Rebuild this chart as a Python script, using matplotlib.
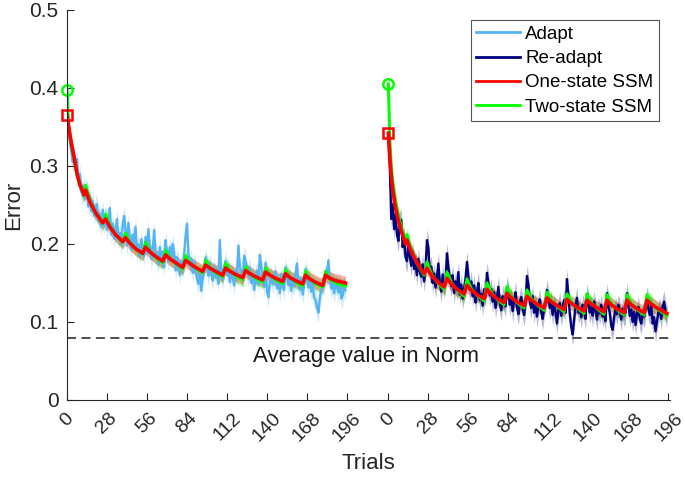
import numpy as np
import matplotlib.pyplot as plt
from matplotlib.lines import Line2D

plt.rcParams['font.family'] = ['Liberation Sans', 'DejaVu Sans']

# second session is drawn after a gap on the same axis
offset = 225
tick_vals = [0, 28, 56, 84, 112, 140, 168, 196]

# trial-by-trial mean error
adapt = [
    0.362, 0.345, 0.332, 0.318, 0.305, 0.312, 0.296, 0.309, 0.281, 0.290, 0.268, 0.262, 0.275,
    0.258, 0.270, 0.248, 0.262, 0.242, 0.255, 0.236, 0.246, 0.251, 0.229, 0.238, 0.222, 0.244, 0.224,
    0.236, 0.218, 0.230, 0.246, 0.212, 0.226, 0.207, 0.219, 0.232, 0.205, 0.214, 0.199, 0.226, 0.236,
    0.216, 0.198, 0.227, 0.207, 0.193, 0.212, 0.201, 0.222, 0.190, 0.199, 0.184, 0.206, 0.192, 0.185,
    0.209, 0.188, 0.219, 0.197, 0.181, 0.193, 0.218, 0.190, 0.185, 0.174, 0.196, 0.179, 0.190, 0.170,
    0.205, 0.187, 0.178, 0.196, 0.182, 0.200, 0.189, 0.166, 0.183, 0.174, 0.160, 0.178, 0.169, 0.187,
    0.210, 0.226, 0.188, 0.172, 0.181, 0.163, 0.177, 0.168, 0.155, 0.149, 0.162, 0.140, 0.158, 0.166,
    0.183, 0.170, 0.159, 0.176, 0.162, 0.153, 0.171, 0.158, 0.167, 0.149, 0.205, 0.163, 0.155, 0.170,
    0.178, 0.160, 0.172, 0.151, 0.165, 0.157, 0.147, 0.166, 0.160, 0.198, 0.170, 0.164, 0.155, 0.185,
    0.178, 0.164, 0.159, 0.170, 0.150, 0.162, 0.141, 0.157, 0.166, 0.148, 0.186, 0.171, 0.158, 0.145,
    0.176, 0.139, 0.132, 0.151, 0.160, 0.148, 0.158, 0.165, 0.143, 0.155, 0.137, 0.162, 0.150, 0.141,
    0.170, 0.156, 0.147, 0.160, 0.140, 0.153, 0.146, 0.163, 0.175, 0.150, 0.142, 0.156, 0.135, 0.149,
    0.168, 0.153, 0.144, 0.157, 0.139, 0.148, 0.131, 0.128, 0.119, 0.112, 0.131, 0.142, 0.150, 0.146,
    0.162, 0.158, 0.179, 0.155, 0.143, 0.151, 0.137, 0.149, 0.146, 0.138, 0.153, 0.130, 0.134, 0.145, 0.141,
]
readapt = [
    0.338, 0.300, 0.232, 0.251, 0.219, 0.238, 0.212, 0.204, 0.228, 0.231, 0.196, 0.210, 0.183,
    0.178, 0.197, 0.185, 0.172, 0.190, 0.168, 0.176, 0.160, 0.181, 0.165, 0.158, 0.174, 0.152, 0.169,
    0.205, 0.195, 0.163, 0.171, 0.150, 0.162, 0.144, 0.158, 0.175, 0.149, 0.139, 0.161, 0.145, 0.152,
    0.188, 0.170, 0.155, 0.146, 0.160, 0.137, 0.152, 0.141, 0.164, 0.135, 0.148, 0.130, 0.143, 0.156,
    0.177, 0.158, 0.141, 0.152, 0.133, 0.147, 0.125, 0.139, 0.150, 0.128, 0.136, 0.121, 0.142, 0.132,
    0.163, 0.150, 0.134, 0.142, 0.126, 0.138, 0.118, 0.131, 0.145, 0.124, 0.115, 0.133, 0.127, 0.120,
    0.145, 0.136, 0.122, 0.130, 0.114, 0.127, 0.138, 0.119, 0.110, 0.125, 0.132, 0.117, 0.109, 0.123,
    0.159, 0.148, 0.126, 0.118, 0.133, 0.112, 0.124, 0.107, 0.120, 0.129, 0.113, 0.104, 0.118, 0.127,
    0.141, 0.129, 0.118, 0.126, 0.109, 0.121, 0.113, 0.098, 0.116, 0.124, 0.108, 0.119, 0.128, 0.112,
    0.155, 0.134, 0.110, 0.094, 0.084, 0.103, 0.121, 0.131, 0.112, 0.118, 0.106, 0.122, 0.115, 0.104,
    0.136, 0.124, 0.112, 0.119, 0.108, 0.126, 0.115, 0.103, 0.118, 0.111, 0.122, 0.107, 0.113, 0.101,
    0.137, 0.120, 0.112, 0.095, 0.090, 0.106, 0.118, 0.110, 0.122, 0.114, 0.103, 0.117, 0.108, 0.112,
    0.137, 0.121, 0.108, 0.116, 0.100, 0.113, 0.096, 0.110, 0.119, 0.104, 0.098, 0.112, 0.107, 0.115,
    0.131, 0.117, 0.109, 0.121, 0.098, 0.106, 0.088, 0.101, 0.112, 0.117, 0.104, 0.120, 0.126, 0.113, 0.108,
]
adapt_se = 0.013
readapt_se = 0.014

# model fits, sampled at these trials (sawtooth: jump at each new block)
model_x = [0, 1, 2, 3, 5, 7, 9, 12,
           13, 16, 20, 25, 27, 30, 34, 39, 41, 44, 48, 53, 55, 58, 62, 67,
           69, 72, 76, 81, 83, 86, 90, 95, 97, 100, 104, 109, 111, 114, 118, 123,
           125, 128, 132, 137, 139, 142, 146, 151, 153, 156, 160, 165,
           167, 170, 174, 179, 181, 184, 188, 195]
one_adapt = [0.365, 0.353, 0.341, 0.330, 0.311, 0.290, 0.276, 0.263,
             0.269, 0.254, 0.240, 0.227, 0.232, 0.222, 0.212, 0.203,
             0.208, 0.201, 0.194, 0.188, 0.196, 0.190, 0.184, 0.178,
             0.186, 0.181, 0.176, 0.170, 0.179, 0.175, 0.170, 0.165,
             0.173, 0.169, 0.165, 0.160, 0.169, 0.165, 0.161, 0.157,
             0.166, 0.162, 0.158, 0.154, 0.164, 0.160, 0.156, 0.152,
             0.162, 0.157, 0.153, 0.149, 0.160, 0.155, 0.151, 0.147,
             0.160, 0.156, 0.153, 0.150]
two_adapt = [0.398, 0.356, 0.339, 0.328, 0.309, 0.289, 0.275, 0.262,
             0.275, 0.256, 0.240, 0.226, 0.238, 0.224, 0.212, 0.202,
             0.214, 0.202, 0.194, 0.187, 0.202, 0.191, 0.183, 0.176,
             0.192, 0.182, 0.175, 0.168, 0.185, 0.176, 0.169, 0.163,
             0.179, 0.170, 0.163, 0.158, 0.175, 0.166, 0.159, 0.154,
             0.171, 0.162, 0.156, 0.151, 0.169, 0.160, 0.154, 0.149,
             0.167, 0.157, 0.151, 0.146, 0.165, 0.155, 0.149, 0.145,
             0.165, 0.155, 0.150, 0.146]
one_readapt = [0.342, 0.310, 0.287, 0.270, 0.246, 0.230, 0.217, 0.200,
               0.205, 0.190, 0.176, 0.162, 0.169, 0.160, 0.152, 0.145,
               0.156, 0.149, 0.142, 0.136, 0.147, 0.141, 0.135, 0.130,
               0.142, 0.136, 0.130, 0.125, 0.137, 0.131, 0.126, 0.121,
               0.133, 0.128, 0.123, 0.118, 0.131, 0.126, 0.121, 0.116,
               0.129, 0.124, 0.119, 0.114, 0.128, 0.123, 0.118, 0.113,
               0.128, 0.122, 0.117, 0.112, 0.128, 0.122, 0.117, 0.112,
               0.128, 0.123, 0.118, 0.111]
two_readapt = [0.405, 0.334, 0.300, 0.281, 0.255, 0.237, 0.222, 0.203,
               0.212, 0.192, 0.175, 0.160, 0.177, 0.162, 0.151, 0.142,
               0.164, 0.151, 0.141, 0.133, 0.155, 0.143, 0.134, 0.127,
               0.150, 0.138, 0.129, 0.122, 0.145, 0.133, 0.125, 0.118,
               0.141, 0.130, 0.122, 0.115, 0.138, 0.128, 0.120, 0.113,
               0.136, 0.126, 0.118, 0.111, 0.135, 0.125, 0.117, 0.110,
               0.135, 0.124, 0.116, 0.109, 0.135, 0.124, 0.116, 0.109,
               0.135, 0.125, 0.117, 0.108]
model_se = 0.009
norm_level = 0.08

c_adapt = '#55b4f5'
c_readapt = '#00007f'
c_one = '#ff0000'
c_two = '#00ff00'
c_axis = '#262626'

fig = plt.figure(figsize=(6.85, 4.8), dpi=100)
ax = fig.add_axes([0.0978, 0.1667, 0.880, 0.8125])

trials = np.arange(len(adapt))
mx = np.array(model_x)

for x0, data, se, col in [(0, adapt, adapt_se, c_adapt),
                          (offset, readapt, readapt_se, c_readapt)]:
    d = np.array(data)
    ax.fill_between(trials + x0, d - se, d + se, color=col, alpha=0.28, lw=0)
    ax.plot(trials + x0, d, color=col, lw=1.7)

for x0, one, two in [(0, one_adapt, two_adapt), (offset, one_readapt, two_readapt)]:
    one = np.array(one)
    two = np.array(two)
    ax.fill_between(mx + x0, two - model_se, two + model_se, color=c_two, alpha=0.3, lw=0)
    ax.fill_between(mx + x0, one - model_se, one + model_se, color=c_one, alpha=0.3, lw=0)
    ax.plot(mx + x0, two, color=c_two, lw=2.2)
    ax.plot(mx + x0, one, color=c_one, lw=2.6)
    ax.plot(mx[0] + x0, two[0], 'o', ms=7.5, mfc='none', mec=c_two, mew=1.8, clip_on=False)
    ax.plot(mx[0] + x0, one[0], 's', ms=7, mfc='none', mec=c_one, mew=1.8, clip_on=False)

ax.axhline(norm_level, color='#404040', lw=1.3, ls=(0, (5, 3)))
ax.text(209, 0.056, 'Average value in Norm', ha='center', va='center',
        fontsize=16, color='#1a1a1a')

ax.set_xlim(0, 422)
ax.set_ylim(0, 0.5)
ax.set_xticks(tick_vals + [t + offset for t in tick_vals])
ax.set_xticklabels([str(t) for t in tick_vals] * 2, rotation=45, ha='center', va='top')
ax.set_yticks([0, 0.1, 0.2, 0.3, 0.4, 0.5])
ax.set_yticklabels(['0', '0.1', '0.2', '0.3', '0.4', '0.5'])
ax.tick_params(direction='in', length=5, width=0.8, colors=c_axis)
ax.tick_params(axis='x', pad=7, labelsize=14)
ax.tick_params(axis='y', pad=6, labelsize=15)
for s in ['top', 'right']:
    ax.spines[s].set_visible(False)
for s in ['left', 'bottom']:
    ax.spines[s].set_color(c_axis)
    ax.spines[s].set_linewidth(0.8)

ax.set_xlabel('Trials', fontsize=16, color=c_axis, labelpad=6)
ax.set_ylabel('Error', fontsize=16, color=c_axis, labelpad=4)

handles = [Line2D([], [], color=c_adapt, lw=2),
           Line2D([], [], color=c_readapt, lw=2),
           Line2D([], [], color=c_one, lw=2),
           Line2D([], [], color=c_two, lw=2)]
leg = ax.legend(handles, ['Adapt', 'Re-adapt', 'One-state SSM', 'Two-state SSM'],
                loc='upper right', bbox_to_anchor=(0.982, 0.974), fontsize=13.5,
                handlelength=2.3, handletextpad=0.3, labelspacing=0.38,
                borderpad=0.3, fancybox=False, framealpha=1, borderaxespad=0)
leg.get_frame().set_edgecolor('#555555')
leg.get_frame().set_linewidth(0.8)

fig.savefig('out.png', dpi=100)
